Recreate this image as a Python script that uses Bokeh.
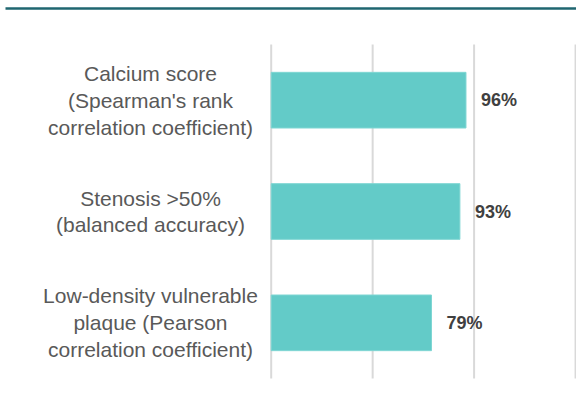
from bokeh.plotting import figure
from bokeh.models import Range1d, ColumnDataSource
from bokeh.core.properties import value
from bokeh.embed import file_html
from bokeh.resources import INLINE

# ---- data ----
categories = [
    "Calcium score\n(Spearman's rank\ncorrelation coefficient)",
    "Stenosis >50%\n(balanced accuracy)",
    "Low-density vulnerable\nplaque (Pearson\ncorrelation coefficient)",
]
values = [96, 93, 79]
value_labels = ["96%", "93%", "79%"]
grid_ticks = [0, 50, 100, 150]

W, H = 576, 399
# pixel layout of the plotting region
X0_PX, XSCALE = 270.7, 2.029       # pixel of value 0, pixels per unit
Y_TOP_PX, Y_BOT_PX = 44.0, 378.0   # extent of the category band
n = len(categories)
YSCALE = (Y_BOT_PX - Y_TOP_PX) / n

x_start = -X0_PX / XSCALE
x_end = (W - X0_PX) / XSCALE
y_end = n + Y_TOP_PX / YSCALE
y_start = -(H - Y_BOT_PX) / YSCALE

def px_x(px):
    return (px - X0_PX) / XSCALE

def px_y(py):
    return y_end - py / YSCALE

ypos = [n - 0.5 - i for i in range(n)]

p = figure(width=W, height=H, output_backend="svg", toolbar_location=None,
           x_range=Range1d(x_start, x_end), y_range=Range1d(y_start, y_end),
           min_border=0, min_border_left=0, min_border_right=0,
           min_border_top=0, min_border_bottom=0)
p.axis.visible = False
p.grid.visible = False
p.outline_line_color = None
p.background_fill_color = "white"
p.border_fill_color = "white"

# top rule
p.segment(x0=[px_x(5)], y0=[px_y(8)], x1=[x_end], y1=[px_y(8)],
          line_color="#1f6670", line_width=2.5)

# vertical gridlines
p.segment(x0=grid_ticks, y0=[0] * len(grid_ticks), x1=grid_ticks,
          y1=[n] * len(grid_ticks), line_color="#d9d9d9", line_width=2)

src = ColumnDataSource(dict(y=ypos, v=values, lab=value_labels, cat=categories,
                            lx=[px_x(150)] * n))

p.hbar(y="y", left=0, right="v", height=0.5, source=src,
       fill_color="#63cbc8", line_color="#7fd6d3", line_width=1)

p.text(x="v", y="y", text="lab", source=src, x_offset=15,
       text_font=value("Liberation Sans"), text_font_style="bold",
       text_font_size="18px", text_color="#404040",
       text_align="left", text_baseline="middle")

p.text(x="lx", y="y", text="cat", source=src,
       text_font=value("Liberation Sans"), text_font_size="21px",
       text_color="#595959", text_align="center", text_baseline="middle",
       text_line_height=1.17)

open("out.html", "w").write(file_html(p, INLINE))
